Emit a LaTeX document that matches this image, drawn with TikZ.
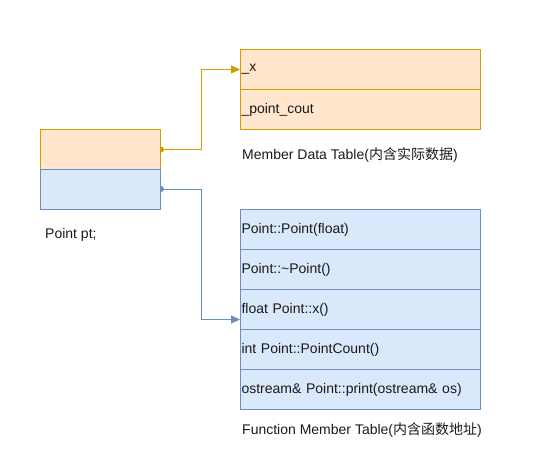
\documentclass[tikz,border=0pt]{standalone}
\usepackage{fontspec}
\setmainfont{Liberation Sans}
\newfontfamily\cjk{Noto Sans CJK SC}
\usetikzlibrary{arrows.meta}
\definecolor{ofill}{HTML}{FFE6CC}
\definecolor{ostroke}{HTML}{D79B00}
\definecolor{bfill}{HTML}{DAE8FC}
\definecolor{bstroke}{HTML}{6C8EBF}
\definecolor{txt}{HTML}{1A1A1A}
\begin{document}
\begin{tikzpicture}[x=1pt,y=1pt,
  every node/.style={font=\fontsize{14pt}{16pt}\selectfont, text=txt},
  obox/.style={draw=ostroke, fill=ofill, line width=1pt, minimum width=120pt, minimum height=40pt, anchor=north west, inner sep=0pt},
  bbox/.style={draw=bstroke, fill=bfill, line width=1pt, minimum width=120pt, minimum height=40pt, anchor=north west, inner sep=0pt},
  orow/.style={draw=ostroke, fill=ofill, line width=1pt, text width=238pt, inner xsep=1pt, inner ysep=0pt, minimum height=40pt, align=left, anchor=north west},
  brow/.style={draw=bstroke, fill=bfill, line width=1pt, text width=238pt, inner xsep=1pt, inner ysep=0pt, minimum height=40pt, align=left, anchor=north west},
  caption/.style={anchor=west, inner sep=0pt},
  oconn/.style={draw=ostroke, line width=1pt, -{Triangle[length=9pt,width=8pt]}},
  bconn/.style={draw=bstroke, line width=1pt, -{Triangle[length=9pt,width=8pt]}}
]
\useasboundingbox (0,0) rectangle (559,-474);
% left object
\node[obox] (po) at (40,-129) {};
\node[bbox] (pb) at (40,-169) {};
\node[caption] (ptl) at (45,-235) {Point pt;};
% member data table
\node[orow] (mx) at (240,-49) {\_x};
\node[orow] (mc) at (240,-89) {\_point\_cout};
\node[caption] (mcap) at (242,-155) {Member Data Table({\cjk 内含实际数据})};
% function table
\node[brow] (f1) at (240,-209) {Point::Point(float)};
\node[brow] (f2) at (240,-249) {Point::\textasciitilde Point()};
\node[brow] (f3) at (240,-289) {float Point::x()};
\node[brow] (f4) at (240,-329) {int Point::PointCount()};
\node[brow] (f5) at (240,-369) {ostream\& Point::print(ostream\& os)};
\node[caption] (fcap) at (242,-430) {Function Member Table({\cjk 内含函数地址})};
% connectors
\coordinate (os) at (po.east);
\coordinate (bs) at ([yshift=-20pt]pb.north east);
\coordinate (bt) at ([yshift=-10pt]f3.west);
\draw[oconn] (os) -- ++(40,0) |- (mx.west);
\fill[ostroke] ([yshift=3pt]os) arc (90:-90:3pt) -- cycle;
\draw[bconn] (bs) -- ++(40,0) |- (bt);
\fill[bstroke] ([yshift=3pt]bs) arc (90:-90:3pt) -- cycle;
\end{tikzpicture}
\end{document}
